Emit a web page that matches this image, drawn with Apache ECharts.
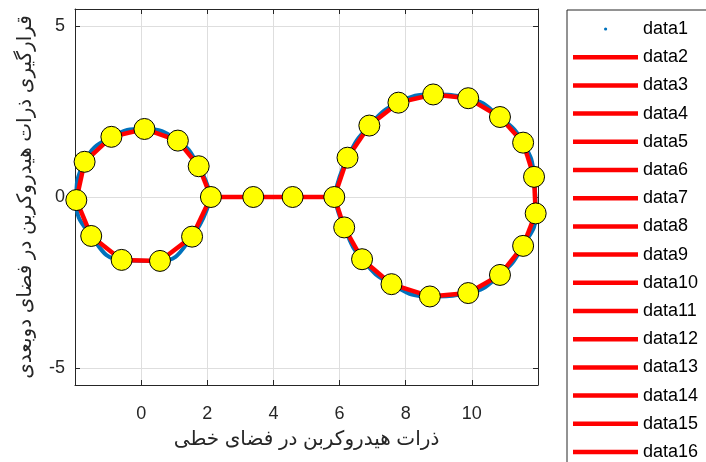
<!DOCTYPE html>
<html><head><meta charset="utf-8">
<script src="https://cdn.jsdelivr.net/npm/echarts@6/dist/echarts.min.js"></script>
<style>html,body{margin:0;padding:0;background:#fff;overflow:hidden}#c{width:706px;height:462px}</style>
</head><body><div id="c"></div>
<script>
// Left loop nodes (start at junction with the middle chain)
const leftX = [2.11, 1.54, 0.57, -0.59, -1.51, -1.96, -1.71, -0.90, 0.10, 1.11, 1.74];
const leftY = [0.00, -1.16, -1.87, -1.84, -1.14, -0.09, 1.03, 1.76, 1.99, 1.65, 0.90];
// Middle chain
const midX = [2.11, 3.39, 4.58, 5.84];
const midY = [0.00, 0.00, 0.00, 0.00];
// Right loop nodes (start at junction with the middle chain)
const rightX = [5.84, 6.24, 6.90, 7.78, 8.83, 9.89, 10.85, 11.55, 11.88, 11.93, 11.55, 10.85, 9.89, 8.73, 7.57, 6.68, 6.14];
const rightY = [0.00, 1.15, 2.09, 2.76, 3.00, 2.89, 2.34, 1.59, 0.59, -0.48, -1.43, -2.28, -2.81, -2.91, -2.55, -1.82, -0.89];
// Axis ticks
const xTicks = [0, 2, 4, 6, 8, 10];
const yTicks = [-5, 0, 5];
const xLabelText = 'ذرات هیدروکربن در فضای خطی';
const yLabelText = 'قرارگیری ذرات هیدروکربن در فضای دوبعدی';

const FONT = "'Liberation Sans', Arial, 'DejaVu Sans', sans-serif";
const AXC = '#262626';
const BLUE = '#0072BD';
const RED = '#FF0000';

function pts(xs, ys) { return xs.map((x, i) => [x, ys[i]]); }
function closed(xs, ys) { const p = pts(xs, ys); p.push(p[0]); return p; }

const series = [];
// grid lines for y (drawn beneath)
series.push({
  name: 'ygrid', type: 'line', data: [], z: 0, silent: true,
  markLine: { silent: true, symbol: 'none', animation: false, z: 0,
    lineStyle: { color: '#dedede', width: 1, type: 'solid' },
    label: { show: false },
    data: yTicks.map(v => ({ yAxis: v })) }
});
// data1: blue smooth curve
const blueStyle = { color: BLUE, width: 4 };
series.push({ name: 'data1', type: 'line', data: closed(leftX, leftY), smooth: 0.5, symbol: 'none', lineStyle: blueStyle, itemStyle: { color: BLUE }, z: 2 });
series.push({ name: 'data1', type: 'line', data: pts(midX, midY), symbol: 'none', lineStyle: blueStyle, itemStyle: { color: BLUE }, z: 2 });
series.push({ name: 'data1', type: 'line', data: closed(rightX, rightY), smooth: 0.5, symbol: 'none', lineStyle: blueStyle, itemStyle: { color: BLUE }, z: 2 });

// red segments
const segs = [];
const L = pts(leftX, leftY), M = pts(midX, midY), R = pts(rightX, rightY);
for (let i = 0; i < L.length; i++) segs.push([L[i], L[(i + 1) % L.length]]);
for (let i = 0; i < M.length - 1; i++) segs.push([M[i], M[i + 1]]);
for (let i = 0; i < R.length; i++) segs.push([R[i], R[(i + 1) % R.length]]);
const names = ['data1'];
segs.forEach((s, k) => {
  const nm = 'data' + (k + 2);
  names.push(nm);
  series.push({ name: nm, type: 'line', data: s, symbol: 'none', lineStyle: { color: RED, width: 4.5 }, itemStyle: { color: RED }, z: 3 });
});
// yellow markers
const allPts = [].concat(L, M.slice(1, 3), R);
series.push({ name: 'markers', type: 'scatter', data: allPts, symbol: 'circle', symbolSize: 21,
  itemStyle: { color: '#FFFF00', borderColor: '#000', borderWidth: 1, opacity: 1 }, z: 4 });

const dotIcon = 'path://M0,0 M65,14 M31,7 A1.6,1.6 0 1,0 34.2,7 A1.6,1.6 0 1,0 31,7 Z';
const lineIcon = 'path://M0,5 L65,5 L65,9.5 L0,9.5 Z';

const legendData = names.map((n, i) => ({ name: n, icon: i === 0 ? dotIcon : lineIcon }));

const chart = echarts.init(document.getElementById('c'), null, { renderer: 'canvas' });
chart.setOption({
  animation: false,
  backgroundColor: '#fff',
  textStyle: { fontFamily: FONT },
  grid: { left: 75, right: 168, top: 9, bottom: 77, containLabel: false },
  legend: {
    orient: 'vertical', left: 567, top: 10, height: 900,
    padding: [10, 40, 9, 6],
    itemWidth: 65, itemHeight: 14, itemGap: 10.2,
    borderColor: '#262626', borderWidth: 1, backgroundColor: '#fff',
    textStyle: { fontSize: 18, color: '#000', fontFamily: FONT, lineHeight: 18 },
    selectedMode: false,
    data: legendData
  },
  xAxis: [
    { type: 'value', position: 'bottom', min: -2, max: 12, interval: 2,
      name: xLabelText, nameLocation: 'middle', nameGap: 44,
      nameTextStyle: { fontSize: 20, color: AXC, fontFamily: FONT },
      axisLine: { show: true, onZero: false, lineStyle: { color: AXC, width: 1 } },
      axisTick: { show: true, inside: true, length: 5, lineStyle: { color: AXC } },
      axisLabel: { show: true, fontSize: 18, color: AXC, margin: 20, showMinLabel: false, showMaxLabel: false,
        formatter: v => (xTicks.indexOf(v) >= 0 ? String(v) : '') },
      splitLine: { show: true, lineStyle: { color: '#dedede', width: 1 } } },
    { type: 'value', position: 'top', min: -2, max: 12, interval: 2,
      axisLine: { show: true, onZero: false, lineStyle: { color: AXC, width: 1 } },
      axisTick: { show: true, inside: true, length: 5, lineStyle: { color: AXC } },
      axisLabel: { show: false }, splitLine: { show: false } }
  ],
  yAxis: [
    { type: 'value', position: 'left', min: -5.5, max: 5.5,
      name: yLabelText, nameLocation: 'middle', nameGap: 40, nameRotate: 90,
      nameTextStyle: { fontSize: 20, color: AXC, fontFamily: FONT },
      axisLine: { show: true, onZero: false, lineStyle: { color: AXC, width: 1 } },
      axisTick: { show: true, inside: true, length: 5, customValues: yTicks, lineStyle: { color: AXC } },
      axisLabel: { show: true, fontSize: 18, color: AXC, margin: 10, customValues: yTicks },
      splitLine: { show: false } },
    { type: 'value', position: 'right', min: -5.5, max: 5.5,
      axisLine: { show: true, onZero: false, lineStyle: { color: AXC, width: 1 } },
      axisTick: { show: true, inside: true, length: 5, customValues: yTicks, lineStyle: { color: AXC } },
      axisLabel: { show: false }, splitLine: { show: false } }
  ],
  series: series
});
</script>
</body></html>
